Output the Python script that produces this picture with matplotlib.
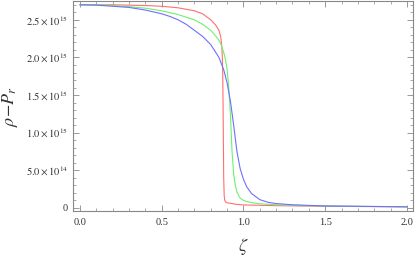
import matplotlib
matplotlib.use("Agg")
import matplotlib.pyplot as plt
from matplotlib.ticker import MultipleLocator, FuncFormatter

plt.rcParams['font.family'] = ['Liberation Serif', 'DejaVu Serif']
plt.rcParams['mathtext.fontset'] = 'stix'

# zeta values and rho - P_r in units of 1e15
zeta_red = [0, 0.1, 0.2, 0.3, 0.4, 0.5, 0.6, 0.7, 0.75, 0.8, 0.83, 0.85, 0.86,
            0.866, 0.87, 0.873, 0.875, 0.877, 0.879, 0.882, 0.886, 0.89, 0.9,
            0.92, 0.95, 1.0, 1.2, 1.5, 2.0]
rho_red = [2.70, 2.70, 2.70, 2.695, 2.69, 2.68, 2.66, 2.62, 2.58, 2.50, 2.43,
           2.36, 2.28, 2.18, 2.05, 1.80, 1.40, 0.90, 0.40, 0.16, 0.10, 0.08,
           0.068, 0.062, 0.05, 0.04, 0.03, 0.022, 0.015]

zeta_green = [0, 0.1, 0.2, 0.3, 0.4, 0.5, 0.6, 0.7, 0.75, 0.8, 0.84, 0.86,
              0.88, 0.89, 0.9, 0.91, 0.92, 0.93, 0.94, 0.95, 0.96, 0.98, 1.0,
              1.02, 1.05, 1.1, 1.2, 1.4, 1.6, 2.0]
rho_green = [2.70, 2.70, 2.69, 2.675, 2.655, 2.62, 2.57, 2.50, 2.44, 2.36, 2.26,
             2.19, 2.06, 1.97, 1.84, 1.60, 1.25, 0.75, 0.45, 0.30, 0.21, 0.13,
             0.10, 0.085, 0.07, 0.055, 0.042, 0.03, 0.024, 0.015]

zeta_blue = [0, 0.1, 0.2, 0.3, 0.4, 0.5, 0.55, 0.6, 0.65, 0.7, 0.75, 0.8, 0.85,
             0.88, 0.9, 0.92, 0.94, 0.96, 0.98, 1.0, 1.02, 1.05, 1.1, 1.15,
             1.2, 1.3, 1.5, 2.0]
rho_blue = [2.70, 2.695, 2.68, 2.665, 2.63, 2.58, 2.545, 2.50, 2.44, 2.36, 2.28,
            2.17, 2.00, 1.83, 1.66, 1.42, 1.10, 0.75, 0.52, 0.38, 0.28, 0.19,
            0.11, 0.075, 0.058, 0.042, 0.026, 0.015]

series = [
    (zeta_red, rho_red, '#ff6f6f'),
    (zeta_green, rho_green, '#6ff06f'),
    (zeta_blue, rho_blue, '#6f6fff'),
]

fig = plt.figure(figsize=(4.15, 2.56), dpi=100)
ax = fig.add_axes([0.176, 0.176, 0.819, 0.820])

for z, r, c in series:
    ax.plot(z, [v * 1e15 for v in r], color=c, lw=0.8)

ax.set_xlim(-0.043, 2.037)
ax.set_ylim(-0.04e15, 2.75e15)

ax.xaxis.set_major_locator(MultipleLocator(0.5))
ax.xaxis.set_minor_locator(MultipleLocator(0.1))
ax.yaxis.set_major_locator(MultipleLocator(0.5e15))
ax.yaxis.set_minor_locator(MultipleLocator(0.1e15))


def yfmt(v, pos):
    if abs(v) < 1:
        return '0'
    exp = 15 if v >= 1e15 else 14
    return r'$%.1f\times10^{%d}$' % (v / 10**exp, exp)


ax.yaxis.set_major_formatter(FuncFormatter(yfmt))
ax.xaxis.set_major_formatter(FuncFormatter(lambda v, p: '%.1f' % v))

frame_col = '#888888'
for s in ax.spines.values():
    s.set_color(frame_col)
    s.set_linewidth(0.8)
ax.tick_params(which='both', direction='in', top=True, right=True,
               color=frame_col, labelsize=7.5, labelcolor='#333333')
ax.tick_params(which='major', length=4, width=0.6)
ax.tick_params(which='minor', length=2, width=0.5)
ax.tick_params(axis='x', pad=5)

ax.set_xlabel(r'$\zeta$', fontsize=13, labelpad=6.5, color='#333333')
ax.set_ylabel(r'$\rho\!-\!P_r$', fontsize=13, labelpad=4, color='#333333')

fig.savefig('out.png', dpi=100)
